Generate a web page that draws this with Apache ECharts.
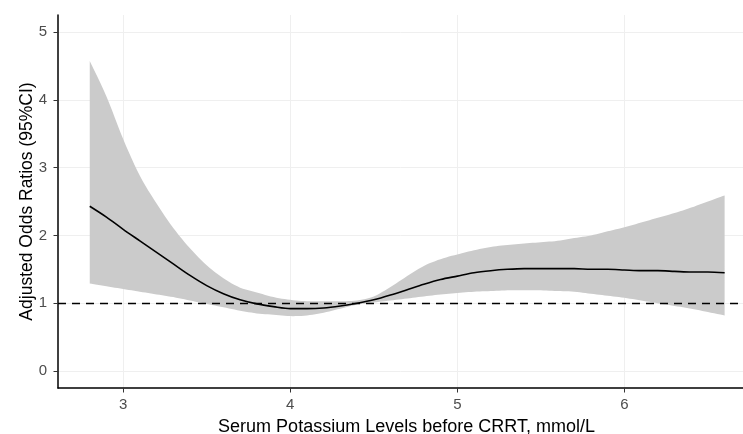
<!DOCTYPE html>
<html lang="en">
<head>
    <meta charset="UTF-8">
    <title>RCS</title>
    <script src="https://cdn.jsdelivr.net/npm/echarts@6/dist/echarts.min.js"></script>
    <style>
        html, body { margin: 0; padding: 0; background: #fff; }
    </style>
</head>
<body>
    <div id="main" style="width: 743px; height: 434px;"></div>
    <script>
    // serum potassium (mmol/L)
    var potassium = [2.8, 2.9, 3.0, 3.1, 3.2, 3.3, 3.4, 3.5, 3.6, 3.7,
        3.8, 3.9, 4.0, 4.1, 4.2, 4.3, 4.4, 4.5, 4.6, 4.7,
        4.8, 4.9, 5.0, 5.1, 5.2, 5.3, 5.4, 5.5, 5.6, 5.7,
        5.8, 5.9, 6.0, 6.1, 6.2, 6.3, 6.4, 6.5, 6.6];
    // adjusted OR
    var oddsRatio = [2.43, 2.27, 2.09, 1.92, 1.75, 1.58, 1.41, 1.26, 1.14, 1.05,
        0.99, 0.95, 0.92, 0.92, 0.93, 0.96, 1.00, 1.05, 1.12, 1.20,
        1.28, 1.35, 1.40, 1.45, 1.48, 1.50, 1.51, 1.51, 1.51, 1.51,
        1.50, 1.50, 1.49, 1.48, 1.48, 1.47, 1.46, 1.46, 1.45];
    // 95% CI
    var ciUpper = [4.57, 4.05, 3.42, 2.88, 2.47, 2.11, 1.81, 1.56, 1.37, 1.23,
        1.16, 1.09, 1.05, 1.03, 1.03, 1.03, 1.04, 1.10, 1.24, 1.40,
        1.55, 1.65, 1.72, 1.78, 1.83, 1.86, 1.88, 1.90, 1.92, 1.96,
        2.00, 2.06, 2.12, 2.19, 2.26, 2.33, 2.41, 2.50, 2.59];
    var ciLower = [1.29, 1.25, 1.21, 1.17, 1.13, 1.09, 1.04, 0.99, 0.94, 0.89,
        0.85, 0.83, 0.81, 0.82, 0.86, 0.92, 0.98, 1.01, 1.04, 1.07,
        1.10, 1.13, 1.15, 1.17, 1.18, 1.19, 1.19, 1.19, 1.18, 1.17,
        1.14, 1.11, 1.08, 1.04, 1.00, 0.96, 0.92, 0.87, 0.82];
    var xTicks = [3, 4, 5, 6];
    var yTicks = [0, 1, 2, 3, 4, 5];
    var refLine = 1;

    var myChart = echarts.init(document.getElementById('main'));
    var font = 'Liberation Sans, Arial, sans-serif';

    var curveData = [];
    for (var i = 0; i < potassium.length; i++) {
        curveData.push([potassium[i], oddsRatio[i]]);
    }

    // smooth the pixel outline between the data points (catmull-rom)
    function smoothPx(p) {
        var out = [], steps = 6, n = p.length;
        for (var i = 0; i < n - 1; i++) {
            var p0 = p[Math.max(i - 1, 0)], p1 = p[i], p2 = p[i + 1], p3 = p[Math.min(i + 2, n - 1)];
            for (var s = 0; s < steps; s++) {
                var t = s / steps, t2 = t * t, t3 = t2 * t;
                out.push([
                    0.5 * (2 * p1[0] + (-p0[0] + p2[0]) * t + (2 * p0[0] - 5 * p1[0] + 4 * p2[0] - p3[0]) * t2 + (-p0[0] + 3 * p1[0] - 3 * p2[0] + p3[0]) * t3),
                    0.5 * (2 * p1[1] + (-p0[1] + p2[1]) * t + (2 * p0[1] - 5 * p1[1] + 4 * p2[1] - p3[1]) * t2 + (-p0[1] + 3 * p1[1] - 3 * p2[1] + p3[1]) * t3)
                ]);
            }
        }
        out.push(p[n - 1]);
        return out;
    }

    // CI band drawn as a polygon through the axes
    function renderBand(params, api) {
        var up = [], lo = [];
        for (var i = 0; i < potassium.length; i++) {
            up.push(api.coord([potassium[i], ciUpper[i]]));
            lo.push(api.coord([potassium[i], ciLower[i]]));
        }
        var pts = smoothPx(up).concat(smoothPx(lo).reverse());
        return {
            type: 'polygon',
            shape: { points: pts },
            style: { fill: '#cbcbcb', stroke: null }
        };
    }

    var option = {
        animation: false,
        backgroundColor: '#fff',
        textStyle: { fontFamily: font },
        grid: { left: 58, top: 15, width: 685, height: 373, outerBoundsMode: 'none' },
        xAxis: {
            type: 'value',
            min: 2.61,
            max: 6.71,
            name: 'Serum Potassium Levels before CRRT, mmol/L',
            nameLocation: 'middle',
            nameGap: 30,
            nameMoveOverlap: false,
            nameTextStyle: { color: '#000', fontSize: 18, fontFamily: font, padding: [0, 0, 0, 12] },
            axisLine: { show: true, onZero: false, lineStyle: { color: '#000', width: 1.5 } },
            axisTick: { show: true, length: 4.5, customValues: xTicks, lineStyle: { color: '#333' } },
            axisLabel: { customValues: xTicks, color: '#4d4d4d', fontSize: 15, margin: 9, fontFamily: font },
            splitLine: { show: true, lineStyle: { color: '#efefef', width: 1 } }
        },
        yAxis: {
            type: 'value',
            min: -0.25,
            max: 5.25,
            name: 'Adjusted Odds Ratios (95%CI)',
            nameLocation: 'middle',
            nameGap: 22,
            nameMoveOverlap: false,
            nameTextStyle: { color: '#000', fontSize: 17.5, fontFamily: font },
            axisLine: { show: true, onZero: false, lineStyle: { color: '#000', width: 1.5 } },
            axisTick: { show: true, length: 4.5, customValues: yTicks, lineStyle: { color: '#333' } },
            axisLabel: { customValues: yTicks, color: '#4d4d4d', fontSize: 15, margin: 11, fontFamily: font },
            splitLine: { show: true, lineStyle: { color: '#efefef', width: 1 } }
        },
        series: [
            {
                type: 'custom',
                renderItem: renderBand,
                data: [[potassium[0], ciLower[0]]],
                silent: true,
                z: 1
            },
            {
                type: 'line',
                data: curveData,
                smooth: 0.3,
                showSymbol: false,
                lineStyle: { color: '#000', width: 1.6 },
                z: 3,
                markLine: {
                    silent: true,
                    symbol: 'none',
                    label: { show: false },
                    lineStyle: { color: '#000', width: 1.4, type: [8, 6] },
                    data: [{ yAxis: refLine }]
                }
            }
        ]
    };
    myChart.setOption(option);
    </script>
</body>
</html>
